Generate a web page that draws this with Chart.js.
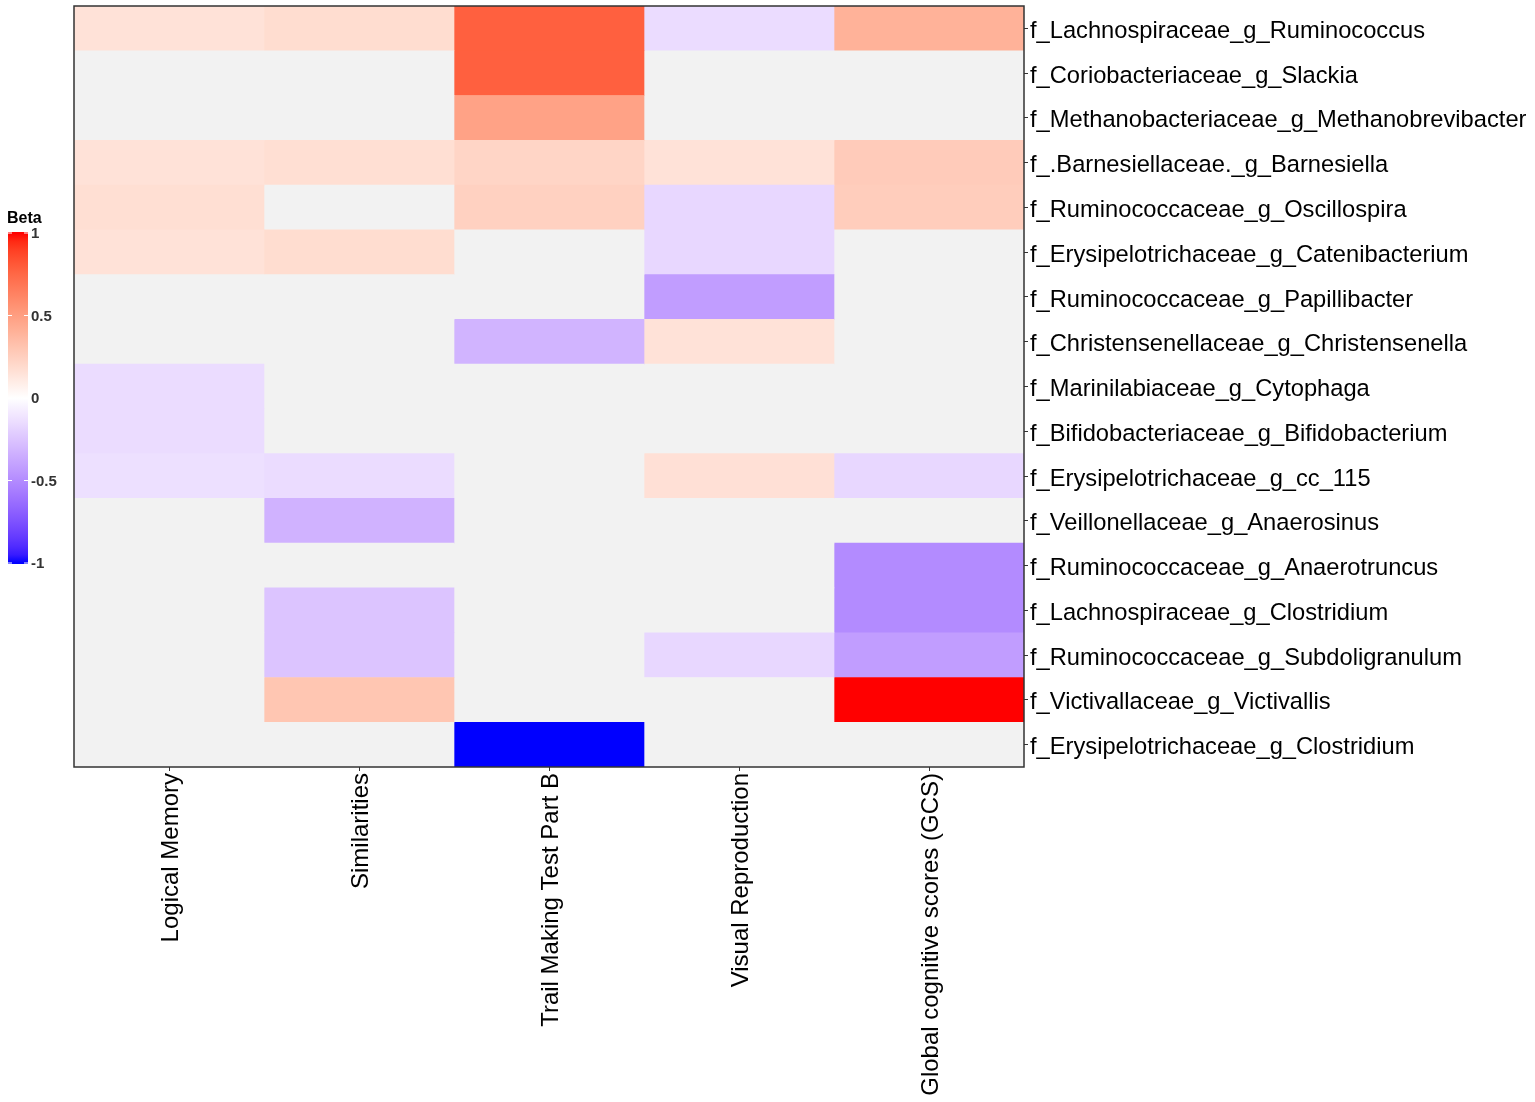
<!DOCTYPE html>
<html>
<head>
<meta charset="utf-8">
<script src="https://cdn.jsdelivr.net/npm/chart.js@4.4.1/dist/chart.umd.min.js"></script>
<style>
    html, body { margin: 0; padding: 0; background: #ffffff; }
    #wrap { width: 1535px; height: 1102px; }
</style>
</head>
<body>
<div id="wrap"><canvas id="heatmap" width="1535" height="1102"></canvas></div>
<script>
// outcome columns (x axis)
const columns = [
    'Logical Memory',
    'Similarities',
    'Trail Making Test Part B',
    'Visual Reproduction',
    'Global cognitive scores (GCS)'
];

// taxa rows, top to bottom
const taxa = [
    'f_Lachnospiraceae_g_Ruminococcus',
    'f_Coriobacteriaceae_g_Slackia',
    'f_Methanobacteriaceae_g_Methanobrevibacter',
    'f_.Barnesiellaceae._g_Barnesiella',
    'f_Ruminococcaceae_g_Oscillospira',
    'f_Erysipelotrichaceae_g_Catenibacterium',
    'f_Ruminococcaceae_g_Papillibacter',
    'f_Christensenellaceae_g_Christensenella',
    'f_Marinilabiaceae_g_Cytophaga',
    'f_Bifidobacteriaceae_g_Bifidobacterium',
    'f_Erysipelotrichaceae_g_cc_115',
    'f_Veillonellaceae_g_Anaerosinus',
    'f_Ruminococcaceae_g_Anaerotruncus',
    'f_Lachnospiraceae_g_Clostridium',
    'f_Ruminococcaceae_g_Subdoligranulum',
    'f_Victivallaceae_g_Victivallis',
    'f_Erysipelotrichaceae_g_Clostridium'
];

// beta per column (same row order as taxa), null = not significant
const logicalMemory      = [0.15, null, null, 0.15, 0.17, 0.15, null, null, -0.15, -0.15, -0.13, null, null, null, null, null, null];
const similarities       = [0.18, null, null, 0.17, null, 0.18, null, null, null, null, -0.15, -0.33, null, -0.25, -0.25, 0.30, null];
const trailMakingB       = [0.78, 0.78, 0.48, 0.22, 0.24, null, null, -0.32, null, null, null, null, null, null, null, null, -1.0];
const visualReproduction = [-0.15, null, null, 0.15, -0.17, -0.17, -0.42, 0.15, null, null, 0.16, null, null, null, -0.17, null, null];
const globalCognitive    = [0.40, null, null, 0.27, 0.26, null, null, null, null, null, -0.17, null, -0.50, -0.50, -0.42, 1.0, null];

const betaByColumn = [logicalMemory, similarities, trailMakingB, visualReproduction, globalCognitive];

// colour bar ticks
const legendTicks = [1, 0.5, 0, -0.5, -1];

const naColor = '#F2F2F2';
const labelFont = '"Liberation Sans", Arial, sans-serif';

// blue - white - red, interpolated in Lab like ggplot's gradient2
function toLinear(c) {
    c = c / 255;
    return c <= 0.04045 ? c / 12.92 : Math.pow((c + 0.055) / 1.055, 2.4);
}
function fromLinear(c) {
    c = Math.max(0, Math.min(1, c));
    const v = c <= 0.0031308 ? 12.92 * c : 1.055 * Math.pow(c, 1 / 2.4) - 0.055;
    return Math.round(v * 255);
}
function rgbToLab(r, g, b) {
    const R = toLinear(r), G = toLinear(g), B = toLinear(b);
    let x = (0.4124 * R + 0.3576 * G + 0.1805 * B) / 0.95047;
    let y = (0.2126 * R + 0.7152 * G + 0.0722 * B);
    let z = (0.0193 * R + 0.1192 * G + 0.9505 * B) / 1.08883;
    const f = t => t > 0.008856 ? Math.cbrt(t) : 7.787 * t + 16 / 116;
    x = f(x); y = f(y); z = f(z);
    return [116 * y - 16, 500 * (x - y), 200 * (y - z)];
}
function labToRgb(L, a, b) {
    const fy = (L + 16) / 116;
    const fx = fy + a / 500;
    const fz = fy - b / 200;
    const inv = t => t > 0.206893 ? t * t * t : (t - 16 / 116) / 7.787;
    const x = inv(fx) * 0.95047, y = inv(fy), z = inv(fz) * 1.08883;
    const R = 3.2406 * x - 1.5372 * y - 0.4986 * z;
    const G = -0.9689 * x + 1.8758 * y + 0.0415 * z;
    const B = 0.0557 * x - 0.2040 * y + 1.0570 * z;
    return 'rgb(' + fromLinear(R) + ',' + fromLinear(G) + ',' + fromLinear(B) + ')';
}
const labWhite = rgbToLab(255, 255, 255);
const labRed = rgbToLab(255, 0, 0);
const labBlue = rgbToLab(0, 0, 255);

function betaColor(v) {
    if (v === null || v === undefined) return naColor;
    const t = Math.min(1, Math.abs(v));
    const end = v >= 0 ? labRed : labBlue;
    return labToRgb(
        labWhite[0] + (end[0] - labWhite[0]) * t,
        labWhite[1] + (end[1] - labWhite[1]) * t,
        labWhite[2] + (end[2] - labWhite[2]) * t
    );
}

// frame around the panel
const framePlugin = {
    id: 'frame',
    afterDatasetsDraw(chart) {
        const { ctx, chartArea } = chart;
        ctx.save();
        ctx.strokeStyle = '#333333';
        ctx.lineWidth = 1.5;
        ctx.strokeRect(chartArea.left, chartArea.top, chartArea.right - chartArea.left, chartArea.bottom - chartArea.top);
        ctx.restore();
    }
};

// Beta colour bar on the left
const colorBarPlugin = {
    id: 'colorBar',
    afterDraw(chart) {
        const ctx = chart.ctx;
        const x = 8, w = 20, top = 233, bottom = 563;
        const grad = ctx.createLinearGradient(0, top, 0, bottom);
        for (let i = 0; i <= 40; i++) {
            grad.addColorStop(i / 40, betaColor(1 - i / 20));
        }
        ctx.save();
        ctx.fillStyle = grad;
        ctx.fillRect(x, top - 1, w, bottom - top + 2);

        ctx.fillStyle = '#000000';
        ctx.font = 'bold 16px ' + labelFont;
        ctx.textAlign = 'left';
        ctx.textBaseline = 'alphabetic';
        ctx.fillText('Beta', 7, 223);

        ctx.font = 'bold 15px ' + labelFont;
        ctx.textBaseline = 'middle';
        legendTicks.forEach(function (v) {
            const y = top + (1 - v) / 2 * (bottom - top);
            ctx.strokeStyle = '#ffffff';
            ctx.lineWidth = 1;
            ctx.beginPath();
            ctx.moveTo(x, y); ctx.lineTo(x + 4, y);
            ctx.moveTo(x + w - 4, y); ctx.lineTo(x + w, y);
            ctx.stroke();
            ctx.fillStyle = '#333333';
            ctx.fillText(String(v), 31, y + 1);
        });
        ctx.restore();
    }
};

const datasets = columns.map(function (name, c) {
    return {
        label: name,
        data: taxa.map(() => [c, c + 1]),
        backgroundColor: betaByColumn[c].map(betaColor),
        borderWidth: 0,
        borderSkipped: false,
        barPercentage: 1,
        categoryPercentage: 1,
        grouped: false
    };
});

new Chart(document.getElementById('heatmap'), {
    type: 'bar',
    data: {
        labels: taxa,
        datasets: datasets
    },
    options: {
        indexAxis: 'y',
        responsive: false,
        animation: false,
        layout: {
            padding: { left: 74, top: 6, right: 0, bottom: 0 }
        },
        plugins: {
            legend: { display: false },
            tooltip: { enabled: false }
        },
        scales: {
            x: {
                type: 'linear',
                position: 'bottom',
                min: 0,
                max: 5,
                afterBuildTicks: function (scale) {
                    scale.ticks = columns.map((_, i) => ({ value: i + 0.5 }));
                },
                afterFit: function (scale) {
                    scale.height = 335;
                    scale.paddingLeft = 0;
                    scale.paddingRight = 0;
                },
                ticks: {
                    autoSkip: false,
                    minRotation: 90,
                    maxRotation: 90,
                    padding: 2,
                    labelOffset: 2,
                    color: '#000000',
                    font: { family: labelFont, size: 24 },
                    callback: function (value, index) {
                        return columns[index];
                    }
                },
                grid: {
                    drawOnChartArea: false,
                    drawTicks: true,
                    tickLength: 4,
                    color: '#333333'
                },
                border: { display: false }
            },
            y: {
                type: 'category',
                position: 'right',
                afterFit: function (scale) {
                    scale.width = 511;
                    scale.paddingTop = 0;
                    scale.paddingBottom = 0;
                },
                ticks: {
                    autoSkip: false,
                    padding: 2,
                    labelOffset: 3,
                    color: '#000000',
                    font: { family: labelFont, size: 23.7 }
                },
                grid: {
                    drawOnChartArea: false,
                    drawTicks: true,
                    tickLength: 4,
                    offset: false,
                    color: '#333333'
                },
                border: { display: false }
            }
        }
    },
    plugins: [framePlugin, colorBarPlugin]
});
</script>
</body>
</html>
